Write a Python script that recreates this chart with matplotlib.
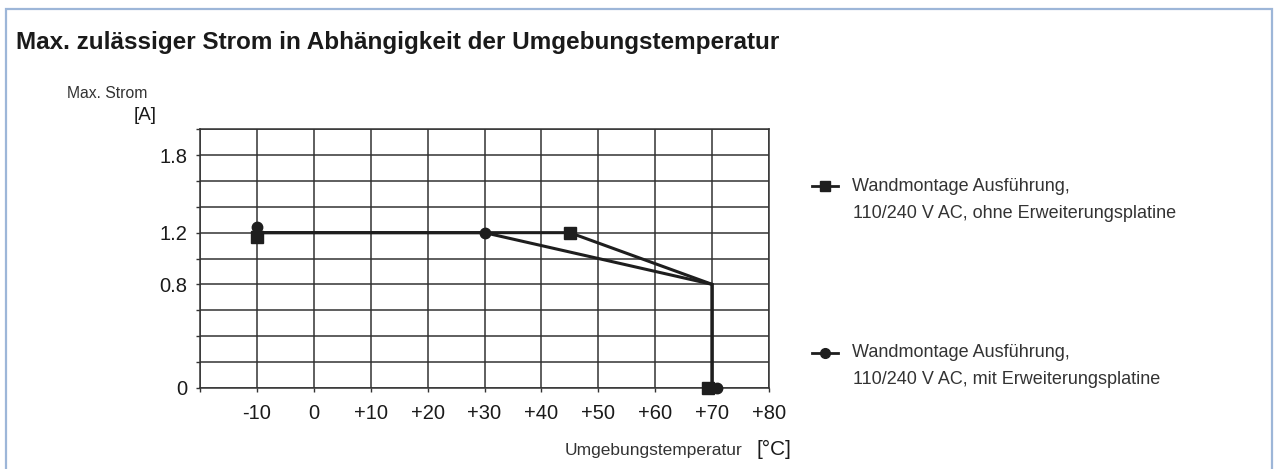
import matplotlib
matplotlib.use('Agg')
import matplotlib.pyplot as plt
from matplotlib.patches import Rectangle
from matplotlib.lines import Line2D

# curve vertices (temperature in degC, current in A)
temp_ohne = [-10, 45, 70, 70]
amp_ohne = [1.2, 1.2, 0.8, 0.0]
temp_mit = [-10, 30, 70, 70]
amp_mit = [1.2, 1.2, 0.8, 0.0]

# marker positions as drawn in the sheet (slightly offset from the curve)
mark_temp_ohne = [-10, 45, 69.2]
mark_amp_ohne = [1.165, 1.2, 0.0]
mark_temp_mit = [-10, 30, 70.9]
mark_amp_mit = [1.245, 1.2, 0.0]

x_ticks = [-20, -10, 0, 10, 20, 30, 40, 50, 60, 70, 80]
x_labels = ['', '-10', '0', '+10', '+20', '+30', '+40', '+50', '+60', '+70', '+80']
y_ticks = [0, 0.2, 0.4, 0.6, 0.8, 1.0, 1.2, 1.4, 1.6, 1.8, 2.0]
y_labels = ['0', '', '', '', '0.8', '', '1.2', '', '', '1.8', '']

legend_ohne = ['Wandmontage Ausführung,', '110/240 V AC, ohne Erweiterungsplatine']
legend_mit = ['Wandmontage Ausführung,', '110/240 V AC, mit Erweiterungsplatine']

W, H = 1276, 469
plt.rcParams['font.family'] = ['Liberation Sans', 'DejaVu Sans']
fig = plt.figure(figsize=(W / 100, H / 100), dpi=100)


def fx(x):
    return x / W


def fy(y):
    return 1 - y / H


ax = fig.add_axes([fx(200), fy(387.7), fx(769) - fx(200), fy(129.3) - fy(387.7)])
ax.set_xlim(-20, 80)
ax.set_ylim(0, 2.0)
ax.set_xticks(x_ticks)
ax.set_xticklabels(x_labels)
ax.set_yticks(y_ticks)
ax.set_yticklabels(y_labels)
ax.tick_params(axis='both', direction='out', length=3, width=1.0, color='#333333',
               labelsize=14.5, labelcolor='#1a1a1a')
ax.tick_params(axis='x', pad=9)
ax.tick_params(axis='y', pad=6)
ax.grid(True, color='#333333', linewidth=1.1)
ax.set_axisbelow(True)
for s in ax.spines.values():
    s.set_color('#333333')
    s.set_linewidth(1.1)

ink = '#1e1e1e'
ax.plot(temp_ohne, amp_ohne, color=ink, lw=2.2, solid_joinstyle='miter', zorder=3, clip_on=False)
ax.plot(temp_mit, amp_mit, color=ink, lw=2.2, solid_joinstyle='miter', zorder=3, clip_on=False)
ax.plot(mark_temp_ohne, mark_amp_ohne, ls='none', marker='s', ms=8, color=ink, zorder=4, clip_on=False)
ax.plot(mark_temp_mit, mark_amp_mit, ls='none', marker='o', ms=7.5, color=ink, zorder=4, clip_on=False)

# title and axis captions
fig.text(fx(16), fy(43), 'Max. zulässiger Strom in Abhängigkeit der Umgebungstemperatur',
         fontsize=17.5, fontweight='bold', color='#1a1a1a', va='center', ha='left')
fig.text(fx(147), fy(93), 'Max. Strom', fontsize=11.3, color='#333333', va='center', ha='right')
fig.text(fx(157), fy(115), '[A]', fontsize=13.5, color='#1a1a1a', va='center', ha='right')
fig.text(fx(742), fy(450), 'Umgebungstemperatur', fontsize=12.5, color='#333333', va='center', ha='right')
fig.text(fx(757), fy(449), '[°C]', fontsize=15, color='#1a1a1a', va='center', ha='left')

# legend entries
for marker, ms, ytop, lines in [('s', 7, 186.5, legend_ohne), ('o', 7, 352.5, legend_mit)]:
    fig.add_artist(Line2D([fx(812), fx(838)], [fy(ytop), fy(ytop)], color=ink, lw=2.0))
    fig.add_artist(Line2D([fx(825)], [fy(ytop)], marker=marker, ms=ms, color=ink, ls='none'))
    fig.text(fx(852), fy(ytop), lines[0], fontsize=13, color='#333333', va='center', ha='left')
    fig.text(fx(853), fy(ytop + 27), lines[1], fontsize=13, color='#333333', va='center', ha='left')

# light blue frame around the panel
fig.add_artist(Rectangle((fx(6), -0.05), fx(1272) - fx(6), fy(9) + 0.05, transform=fig.transFigure,
                         fill=False, edgecolor='#9db6d8', linewidth=1.6, clip_on=False))

fig.savefig('out.png', dpi=100)
